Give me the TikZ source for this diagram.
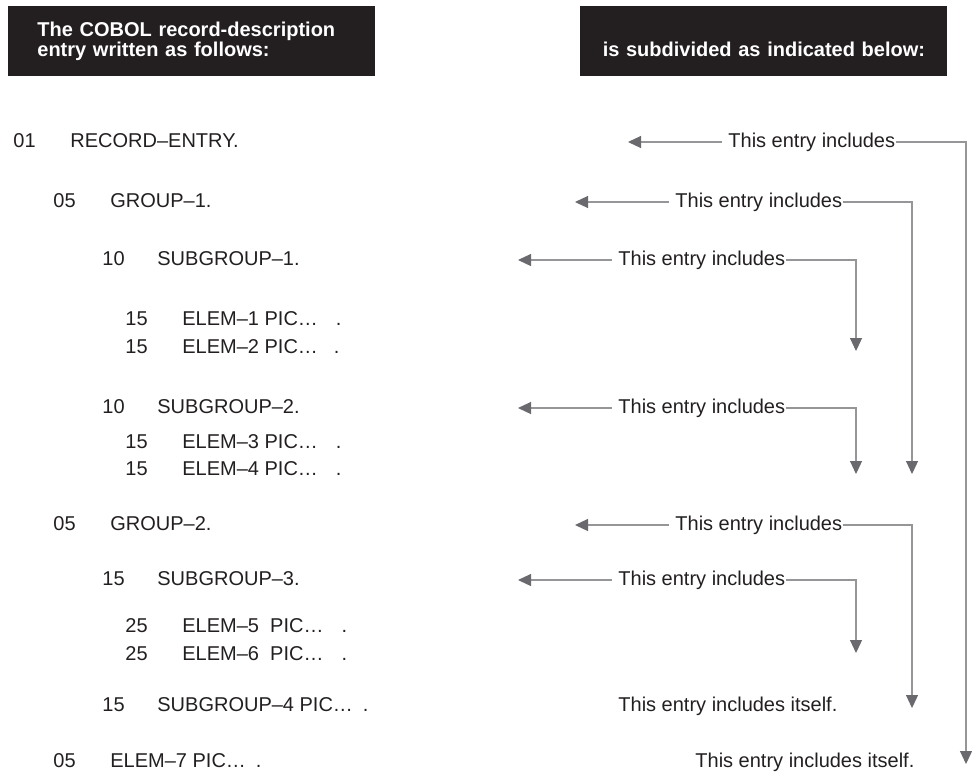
\documentclass[tikz,border=0pt]{standalone}
\usepackage{fontspec}
\setmainfont{Liberation Sans}
\usepackage{xcolor}
\usepackage{tikz}
\usetikzlibrary{arrows.meta}
\definecolor{inkblack}{RGB}{35,31,32}
\definecolor{linegray}{RGB}{150,150,152}
\definecolor{tipgray}{RGB}{105,105,110}

\begin{document}
\begin{tikzpicture}[
  x=0.5pt, y=-0.5pt,
  hdr/.style={fill=inkblack, text=white, anchor=north west, inner xsep=14.5pt,
              minimum width=183.5pt, minimum height=35pt, text width=154.5pt,
              font=\bfseries\fontsize{10pt}{9.2pt}\selectfont},
  code/.style={anchor=west, inner sep=0pt, text=inkblack, font=\fontsize{10pt}{12pt}\selectfont,
               text height=7.2pt, text depth=2pt},
  arr/.style={-{Triangle[length=6.5pt, width=6pt, color=tipgray]}, draw=linegray, line width=0.6pt}
]
\useasboundingbox (0,0) rectangle (972,772);

% headers
\node[hdr, align=left] (hdrL) at (8,6) {The COBOL record-description\\entry written as follows:};
\node[hdr, align=center, inner xsep=4.25pt, text width=175pt,
      text height=17.5pt, text depth=2pt] (hdrR) at (580,6) {is subdivided as indicated below:};

% record description (level numbers and names)
\node[code] (lv1)  at (13,142) {01};
\node[code] (rec)  at (70,142) {RECORD--ENTRY.};
\node[code] (lv2)  at (53,202) {05};
\node[code] (grp1) at (110,202) {GROUP--1.};
\node[code] (lv3)  at (102,260) {10};
\node[code] (sub1) at (157,260) {SUBGROUP--1.};
\node[code] (lv4)  at (125,320) {15};
\node[code] (el1)  at (182,320) {ELEM--1 PIC…\hspace{9pt}.};
\node[code] (lv5)  at (125,348) {15};
\node[code] (el2)  at (182,348) {ELEM--2 PIC…\hspace{8pt}.};
\node[code] (lv6)  at (102,408) {10};
\node[code] (sub2) at (157,408) {SUBGROUP--2.};
\node[code] (lv7)  at (125,443) {15};
\node[code] (el3)  at (182,443) {ELEM--3 PIC…\hspace{9pt}.};
\node[code] (lv8)  at (125,470) {15};
\node[code] (el4)  at (182,470) {ELEM--4 PIC…\hspace{9pt}.};
\node[code] (lv9)  at (53,525) {05};
\node[code] (grp2) at (110,525) {GROUP--2.};
\node[code] (lv10) at (102,580) {15};
\node[code] (sub3) at (157,580) {SUBGROUP--3.};
\node[code] (lv11) at (125,627) {25};
\node[code] (el5)  at (182,627) {ELEM--5\ \ PIC…\hspace{9pt}.};
\node[code] (lv12) at (125,655) {25};
\node[code] (el6)  at (182,655) {ELEM--6\ \ PIC…\hspace{9pt}.};
\node[code] (lv13) at (102,706) {15};
\node[code] (sub4) at (157,706) {SUBGROUP--4 PIC…\hspace{5pt}.};
\node[code] (lv14) at (53,762) {05};
\node[code] (el7)  at (110,762) {ELEM--7 PIC…\hspace{5pt}.};

% what each entry includes
\node[code] (inc1) at (728,142) {This entry includes};
\node[code] (inc2) at (675,202) {This entry includes};
\node[code] (inc3) at (618,260) {This entry includes};
\node[code] (inc4) at (618,408) {This entry includes};
\node[code] (inc5) at (675,525) {This entry includes};
\node[code] (inc6) at (618,580) {This entry includes};
\node[code] (self1) at (618,706) {This entry includes itself.};
\node[code] (self2) at (695,762) {This entry includes itself.};

% free ends of the arrows
\coordinate (lt1) at (628,142);
\coordinate (lt2) at (575,202);
\coordinate (lt3) at (518,260);
\coordinate (lt4) at (518,408);
\coordinate (lt5) at (575,525);
\coordinate (lt6) at (518,580);
\coordinate (dn1) at (966,764);
\coordinate (dn2) at (912,474);
\coordinate (dn3) at (856,351);
\coordinate (dn4) at (856,474);
\coordinate (dn5) at (912,708);
\coordinate (dn6) at (856,653);

\draw[arr, shorten <=3pt] (inc1.west) -- (lt1);
\draw[arr, shorten <=3pt] (inc2.west) -- (lt2);
\draw[arr, shorten <=3pt] (inc3.west) -- (lt3);
\draw[arr, shorten <=3pt] (inc4.west) -- (lt4);
\draw[arr, shorten <=3pt] (inc5.west) -- (lt5);
\draw[arr, shorten <=3pt] (inc6.west) -- (lt6);
\draw[arr] (inc1.east) -| (dn1);
\draw[arr] (inc2.east) -| (dn2);
\draw[arr] (inc3.east) -| (dn3);
\draw[arr] (inc4.east) -| (dn4);
\draw[arr] (inc5.east) -| (dn5);
\draw[arr] (inc6.east) -| (dn6);
\end{tikzpicture}
\end{document}
